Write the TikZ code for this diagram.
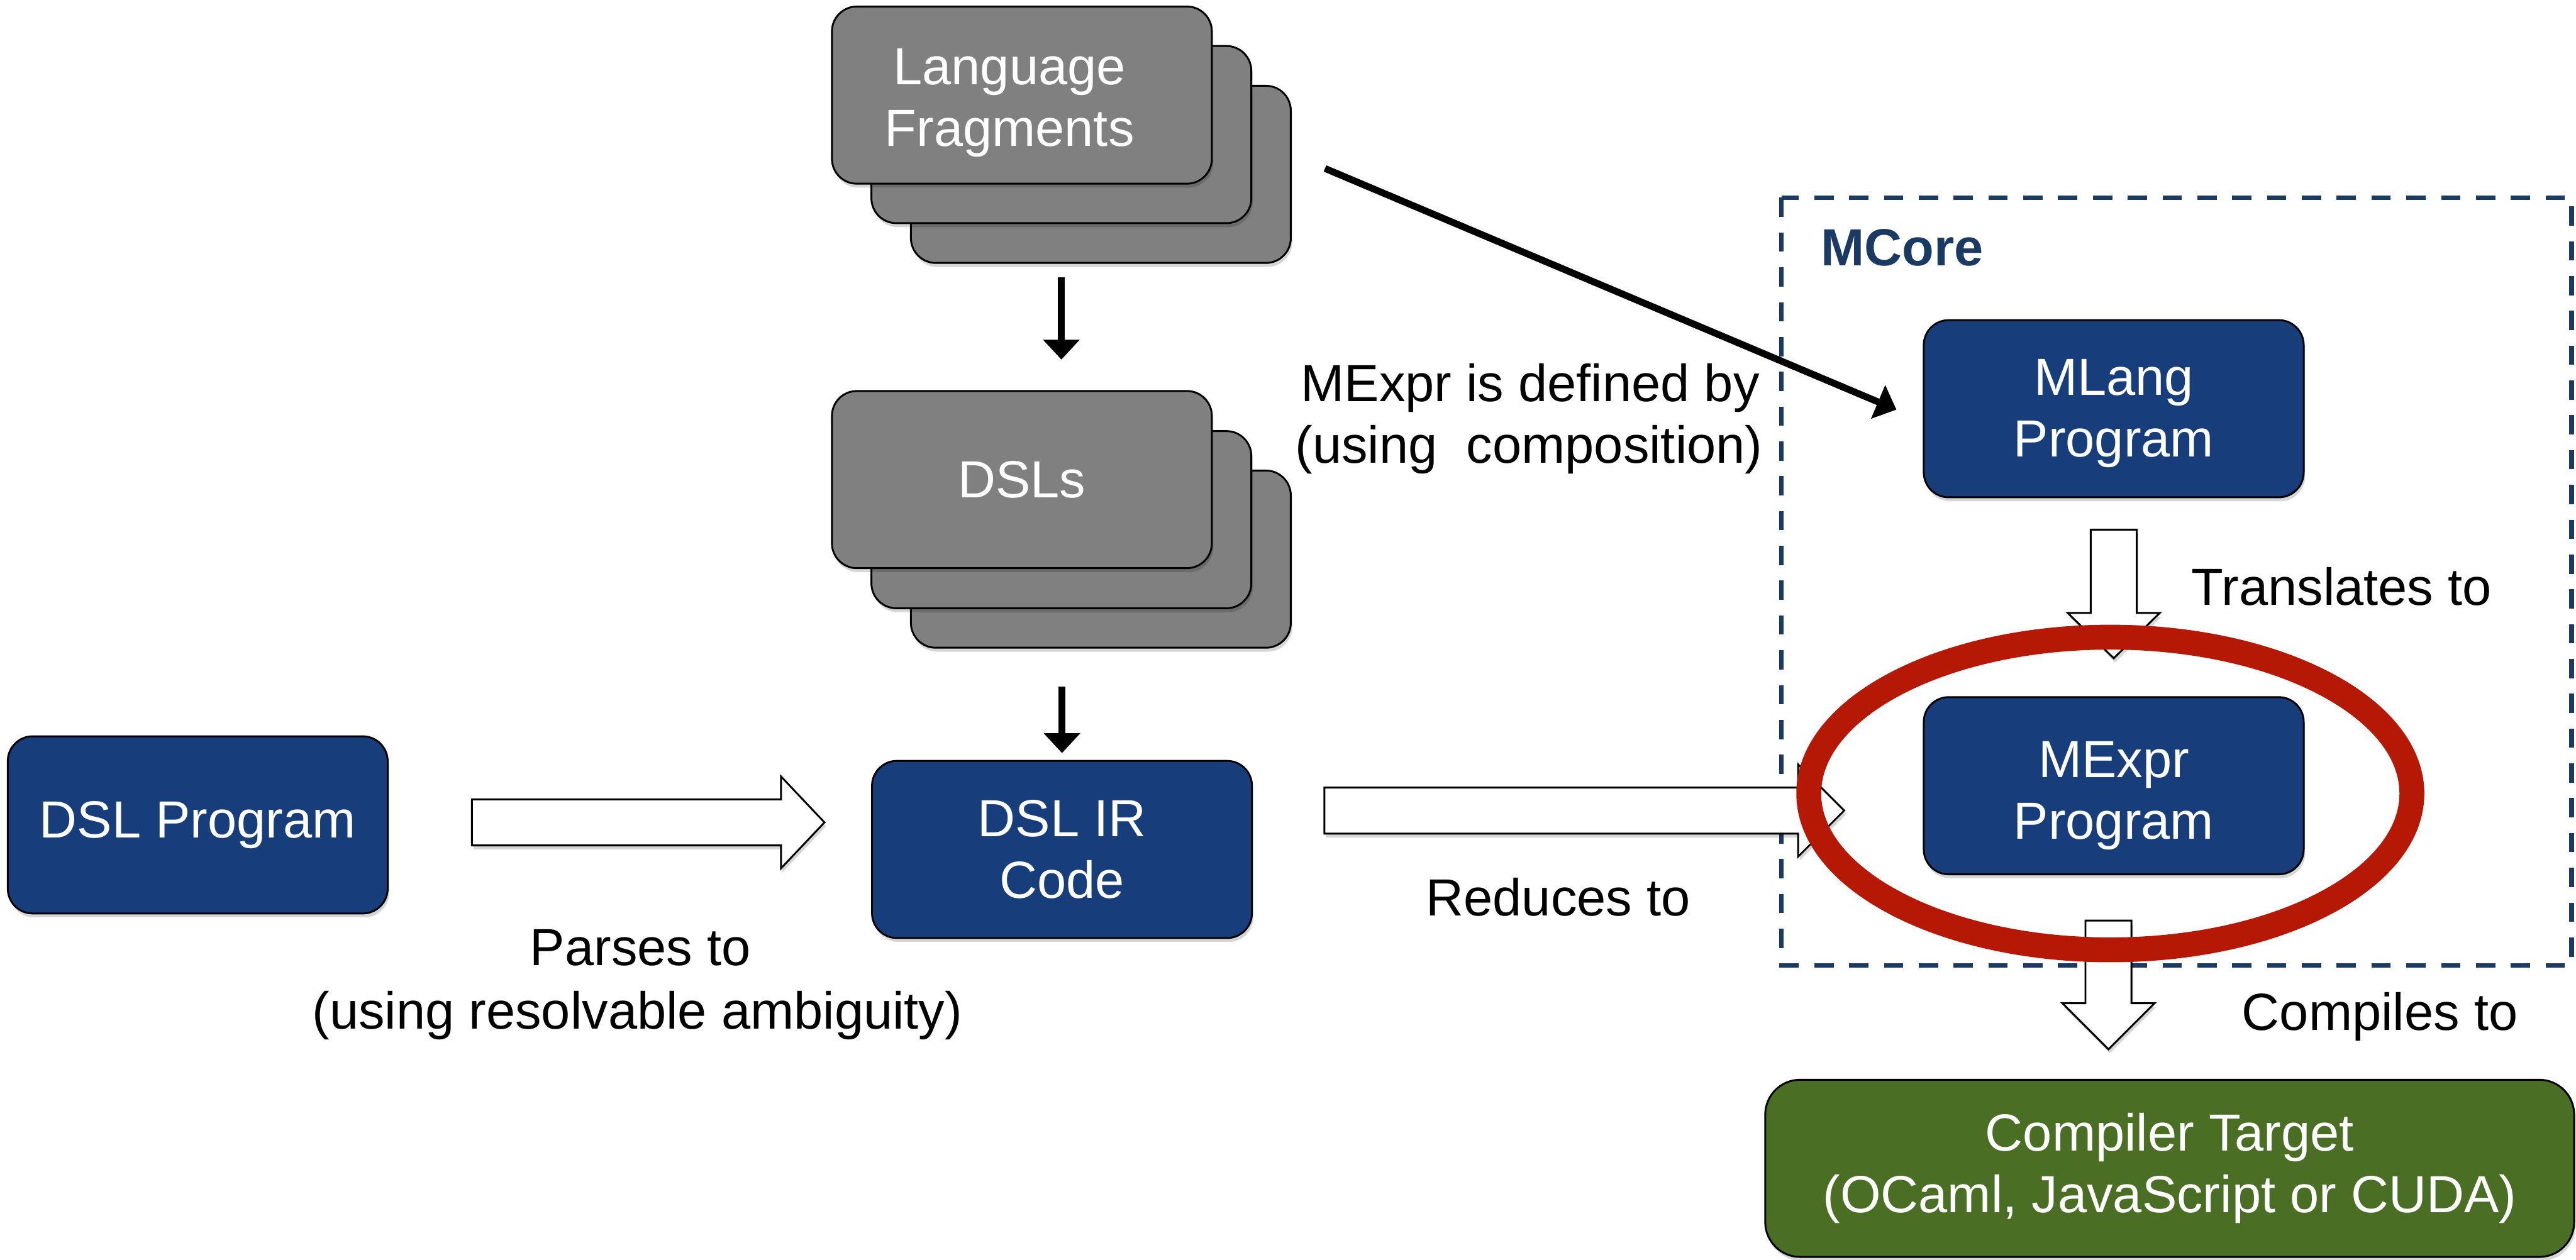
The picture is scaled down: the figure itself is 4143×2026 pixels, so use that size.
\documentclass[tikz,border=0pt]{standalone}
\usepackage{fontspec}
\setmainfont{Liberation Sans}
\usetikzlibrary{arrows.meta,shadows}
\definecolor{boxblue}{RGB}{23,62,122}
\definecolor{boxgrey}{RGB}{128,128,128}
\definecolor{boxgreen}{RGB}{74,110,36}
\definecolor{ringred}{RGB}{181,25,5}
\definecolor{mcnavy}{RGB}{27,58,99}
\tikzset{
  softshadow/.style={drop shadow={shadow xshift=0.6pt, shadow yshift=-1.6pt, opacity=0.16, fill=black}},
  box/.style={draw=black, line width=0.75pt, rounded corners=10pt,
    minimum width=152.75pt, minimum height=71.25pt, inner sep=0pt,
    align=center, text=white, font=\fontsize{21}{24.75}\selectfont, softshadow},
  bluebox/.style={box, fill=boxblue},
  greybox/.style={box, fill=boxgrey},
  greenbox/.style={box, fill=boxgreen, minimum width=325.25pt, rounded corners=14pt},
  lbl/.style={inner sep=0pt, font=\fontsize{21}{24.75}\selectfont, text=black},
  thinarrow/.style={line width=2.75pt, -{Triangle[length=8pt,width=14.25pt]}},
  blockarrow/.style={draw=black, fill=white, line width=0.75pt, line join=miter, softshadow},
  mcorebox/.style={draw=mcnavy, line width=1.9pt, dash pattern=on 7.75pt off 6.25pt},
  ring/.style={draw=ringred, line width=10pt},
}
\begin{document}
\begin{tikzpicture}[x=0.25pt,y=-0.25pt]
\useasboundingbox (0,0) rectangle (4143,2026);

% MCore dashed region
\draw[mcorebox] (2865,318) rectangle (4136,1553);
\node[lbl, anchor=west, text=mcnavy, font=\fontsize{21}{24.75}\selectfont\bfseries] (mcore) at (2928,398) {MCore};

% stacked grey boxes
\node[greybox] (lf3) at (1770.5,280.5) {};
\node[greybox] (lf2) at (1707,216.5) {};
\node[greybox] (lf1) at (1643.5,153) {\hspace*{-10pt}\raisebox{-3.25pt}[\height][\depth]{\begin{tabular}{@{}c@{}}Language\\Fragments\end{tabular}}};
\node[greybox] (dsl3) at (1770.5,899.5) {};
\node[greybox] (dsl2) at (1707,836) {};
\node[greybox] (dsl1) at (1643.5,771.5) {DSLs};

% blue / green boxes
\node[bluebox] (dslprog) at (318,1327) {DSL Program};
\node[bluebox] (dslir) at (1708,1366.5) {DSL IR\\Code};
\node[bluebox] (mlang) at (3399.5,657.5) {\raisebox{-2pt}[\height][\depth]{\begin{tabular}{@{}c@{}}MLang\\Program\end{tabular}}};
\node[bluebox] (mexpr) at (3399.5,1264) {\raisebox{-4pt}[\height][\depth]{\begin{tabular}{@{}c@{}}MExpr\\Program\end{tabular}}};
\node[greenbox] (target) at (3489.5,1879.5) {Compiler Target\\(OCaml, JavaScript or CUDA)};

% thin arrows
\draw[thinarrow, shorten <=5.5pt, shorten >=12.25pt] (lf3.south -| lf2.center) -- (dsl1.north -| lf2.center);
\draw[thinarrow, shorten <=15.25pt, shorten >=2.75pt] (dsl3.south -| dslir.center) -- (dslir.north);
\coordinate (defstart) at (2131,271);
\coordinate (defend) at (3050,659);
\draw[thinarrow] (defstart) -- (defend);

% block arrows
\draw[blockarrow] (759,1286) -- (1256,1286) -- (1256,1249) -- (1326,1323) -- (1256,1397) -- (1256,1360) -- (759,1360) -- cycle;
\draw[blockarrow] (2130,1267) -- (2892,1267) -- (2892,1230) -- (2966,1304) -- (2892,1378) -- (2892,1341) -- (2130,1341) -- cycle;
\draw[blockarrow] (3362.5,852) -- (3436.5,852) -- (3436.5,986) -- (3473.5,986) -- (3399.5,1059) -- (3325.5,986) -- (3362.5,986) -- cycle;
\draw[blockarrow] (3354,1481) -- (3428,1481) -- (3428,1614) -- (3465,1614) -- (3391,1688) -- (3317,1614) -- (3354,1614) -- cycle;

% labels
\node[lbl, anchor=base] (def1) at (2461,646) {MExpr is defined by};
\node[lbl, anchor=base] (def2) at (2459,745) {(using\ \ composition)};
\node[lbl, anchor=base west] (transl) at (3524,974) {Translates to};
\node[lbl, anchor=base west] (compl) at (3605,1657) {Compiles to};
\node[lbl, anchor=base] (redl) at (2506,1473) {Reduces to};
\node[lbl, anchor=base] (parse1) at (1030,1553) {Parses to};
\node[lbl, anchor=base] (parse2) at (1025,1655) {(using resolvable ambiguity)};

% red ring
\draw[ring] (3394,1276.5) ellipse [x radius=121.25pt, y radius=62.875pt];
\end{tikzpicture}
\end{document}
